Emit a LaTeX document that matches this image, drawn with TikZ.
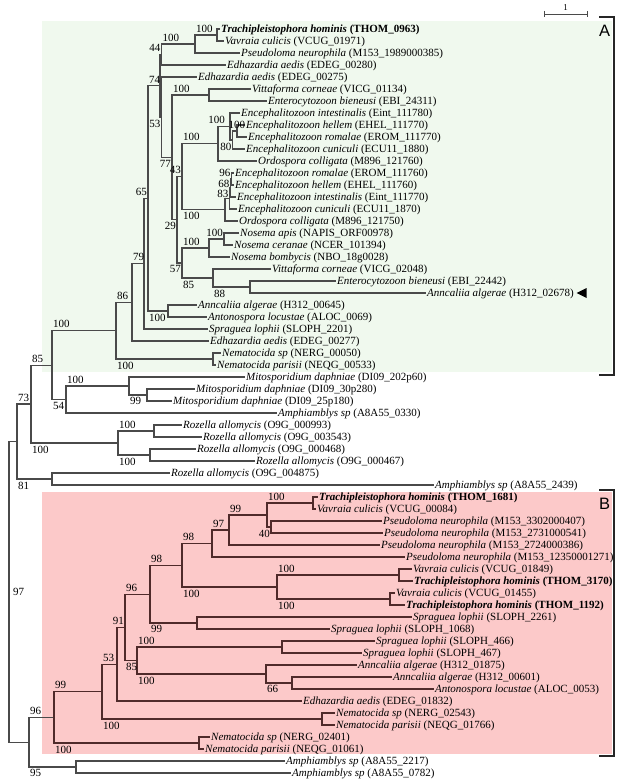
\documentclass[tikz,border=0pt]{standalone}
\usepackage{fontspec}
\setmainfont{Liberation Serif}
\newfontfamily\cladefont{Liberation Sans}
\usetikzlibrary{calc}

\definecolor{cladeA}{HTML}{F0F9EE}
\definecolor{cladeB}{HTML}{FCC9C9}
\definecolor{treeA}{HTML}{4A4A4A}
\definecolor{treeB}{HTML}{4F2A2A}

\newcommand{\taxon}[2]{\textit{#1} (#2)}
\newcommand{\taxonb}[2]{\textbf{\textit{#1} (#2)}}

\tikzset{
  leaf/.style={anchor=west, inner sep=1pt, text height=7.5pt, text depth=1pt,
    font=\fontsize{11}{12}\selectfont},
  bs/.style={inner xsep=1pt, inner ysep=2.5pt, font=\fontsize{11}{12}\selectfont},
  edge/.style={draw=treeA, line width=1.1pt},
  edgeB/.style={draw=treeB, line width=1.1pt},
  bracket/.style={draw=black!85, line width=1.8pt},
}

\begin{document}
\begin{tikzpicture}[x=1pt, y=-1pt]
    \useasboundingbox (0,0) rectangle (617,783);

    % Clade boxes
    \fill[cladeA] (42,21) rectangle (612,372);
    \fill[cladeB] (42,492) rectangle (612,754);
    \draw[bracket] (599,17) -- (614,17) -- (614,375) -- (599,375);
    \draw[bracket] (599,490) -- (614,490) -- (614,756) -- (599,756);
    \node[font=\cladefont\fontsize{16.5}{17}\selectfont] (cA) at (604.5,31) {A};
    \node[font=\cladefont\fontsize{16.5}{17}\selectfont] (cB) at (604.5,504) {B};

    % Scale bar
    \coordinate (sb1) at (544,14);
    \coordinate (sb2) at (587,14);
    \draw[treeA, line width=0.9pt] (sb1) -- (sb2);
    \draw[treeA, line width=0.9pt] ([yshift=3pt]sb1) -- ([yshift=-3pt]sb1);
    \draw[treeA, line width=0.9pt] ([yshift=3pt]sb2) -- ([yshift=-3pt]sb2);
    \node[font=\fontsize{9}{10}\selectfont, above=0pt] (sbl) at ($(sb1)!0.5!(sb2)$) {1};

    % Leaves
    \node[leaf] (l1) at (220,29) {\taxonb{Trachipleistophora hominis}{THOM\_0963}};
    \node[leaf] (l2) at (224,41) {\taxon{Vavraia culicis}{VCUG\_01971}};
    \node[leaf] (l3) at (240,53) {\taxon{Pseudoloma neurophila}{M153\_1989000385}};
    \node[leaf] (l4) at (226,65) {\taxon{Edhazardia aedis}{EDEG\_00280}};
    \node[leaf] (l5) at (197,77) {\taxon{Edhazardia aedis}{EDEG\_00275}};
    \node[leaf] (l6) at (251,89) {\taxon{Vittaforma corneae}{VICG\_01134}};
    \node[leaf] (l7) at (267,101) {\taxon{Enterocytozoon bieneusi}{EBI\_24311}};
    \node[leaf] (l8) at (240,113) {\taxon{Encephalitozoon intestinalis}{Eint\_111780}};
    \node[leaf] (l9) at (245,125) {\taxon{Encephalitozoon hellem}{EHEL\_111770}};
    \node[leaf] (l10) at (247,137) {\taxon{Encephalitozoon romalae}{EROM\_111770}};
    \node[leaf] (l11) at (245,149) {\taxon{Encephalitozoon cuniculi}{ECU11\_1880}};
    \node[leaf] (l12) at (257,161) {\taxon{Ordospora colligata}{M896\_121760}};
    \node[leaf] (l13) at (234,173) {\taxon{Encephalitozoon romalae}{EROM\_111760}};
    \node[leaf] (l14) at (234,185) {\taxon{Encephalitozoon hellem}{EHEL\_111760}};
    \node[leaf] (l15) at (236,197) {\taxon{Encephalitozoon intestinalis}{Eint\_111770}};
    \node[leaf] (l16) at (237,209) {\taxon{Encephalitozoon cuniculi}{ECU11\_1870}};
    \node[leaf] (l17) at (238,221) {\taxon{Ordospora colligata}{M896\_121750}};
    \node[leaf] (l18) at (239,233) {\taxon{Nosema apis}{NAPIS\_ORF00978}};
    \node[leaf] (l19) at (233,245) {\taxon{Nosema ceranae}{NCER\_101394}};
    \node[leaf] (l20) at (230,257) {\taxon{Nosema bombycis}{NBO\_18g0028}};
    \node[leaf] (l21) at (271,269) {\taxon{Vittaforma corneae}{VICG\_02048}};
    \node[leaf] (l22) at (336,281) {\taxon{Enterocytozoon bieneusi}{EBI\_22442}};
    \node[leaf] (l23) at (426,293) {\taxon{Anncaliia algerae}{H312\_02678}};
    \node[leaf] (l24) at (197,305) {\taxon{Anncaliia algerae}{H312\_00645}};
    \node[leaf] (l25) at (207,317) {\taxon{Antonospora locustae}{ALOC\_0069}};
    \node[leaf] (l26) at (208,329) {\taxon{Spraguea lophii}{SLOPH\_2201}};
    \node[leaf] (l27) at (209,341) {\taxon{Edhazardia aedis}{EDEG\_00277}};
    \node[leaf] (l28) at (221,353) {\taxon{Nematocida sp}{NERG\_00050}};
    \node[leaf] (l29) at (216,365) {\taxon{Nematocida parisii}{NEQG\_00533}};
    \node[leaf] (l30) at (245,377) {\taxon{Mitosporidium daphniae}{DI09\_202p60}};
    \node[leaf] (l31) at (195,389) {\taxon{Mitosporidium daphniae}{DI09\_30p280}};
    \node[leaf] (l32) at (172,401) {\taxon{Mitosporidium daphniae}{DI09\_25p180}};
    \node[leaf] (l33) at (277,413) {\taxon{Amphiamblys sp}{A8A55\_0330}};
    \node[leaf] (l34) at (182,425) {\taxon{Rozella allomycis}{O9G\_000993}};
    \node[leaf] (l35) at (202,437) {\taxon{Rozella allomycis}{O9G\_003543}};
    \node[leaf] (l36) at (196,449) {\taxon{Rozella allomycis}{O9G\_000468}};
    \node[leaf] (l37) at (255,461) {\taxon{Rozella allomycis}{O9G\_000467}};
    \node[leaf] (l38) at (170,473) {\taxon{Rozella allomycis}{O9G\_004875}};
    \node[leaf] (l39) at (434,485) {\taxon{Amphiamblys sp}{A8A55\_2439}};
    \node[leaf] (l40) at (318,497) {\taxonb{Trachipleistophora hominis}{THOM\_1681}};
    \node[leaf] (l41) at (316,509) {\taxon{Vavraia culicis}{VCUG\_00084}};
    \node[leaf] (l42) at (382,521) {\taxon{Pseudoloma neurophila}{M153\_3302000407}};
    \node[leaf] (l43) at (383,533) {\taxon{Pseudoloma neurophila}{M153\_2731000541}};
    \node[leaf] (l44) at (380,545) {\taxon{Pseudoloma neurophila}{M153\_2724000386}};
    \node[leaf] (l45) at (405,557) {\taxon{Pseudoloma neurophila}{M153\_12350001271}};
    \node[leaf] (l46) at (412,569) {\taxon{Vavraia culicis}{VCUG\_01849}};
    \node[leaf] (l47) at (413,581) {\taxonb{Trachipleistophora hominis}{THOM\_3170}};
    \node[leaf] (l48) at (395,593) {\taxon{Vavraia culicis}{VCUG\_01455}};
    \node[leaf] (l49) at (405,605) {\taxonb{Trachipleistophora hominis}{THOM\_1192}};
    \node[leaf] (l50) at (412,617) {\taxon{Spraguea lophii}{SLOPH\_2261}};
    \node[leaf] (l51) at (330,629) {\taxon{Spraguea lophii}{SLOPH\_1068}};
    \node[leaf] (l52) at (375,641) {\taxon{Spraguea lophii}{SLOPH\_466}};
    \node[leaf] (l53) at (362,653) {\taxon{Spraguea lophii}{SLOPH\_467}};
    \node[leaf] (l54) at (357,665) {\taxon{Anncaliia algerae}{H312\_01875}};
    \node[leaf] (l55) at (392,677) {\taxon{Anncaliia algerae}{H312\_00601}};
    \node[leaf] (l56) at (434,689) {\taxon{Antonospora locustae}{ALOC\_0053}};
    \node[leaf] (l57) at (302,701) {\taxon{Edhazardia aedis}{EDEG\_01832}};
    \node[leaf] (l58) at (335,713) {\taxon{Nematocida sp}{NERG\_02543}};
    \node[leaf] (l59) at (335,725) {\taxon{Nematocida parisii}{NEQG\_01766}};
    \node[leaf] (l60) at (210,737) {\taxon{Nematocida sp}{NERG\_02401}};
    \node[leaf] (l61) at (204,749) {\taxon{Nematocida parisii}{NEQG\_01061}};
    \node[leaf] (l62) at (285,761) {\taxon{Amphiamblys sp}{A8A55\_2217}};
    \node[leaf] (l63) at (291,773) {\taxon{Amphiamblys sp}{A8A55\_0782}};
    \fill ([xshift=1.5pt]l23.east) -- ++(10,-5) -- ++(0,10) -- cycle;

    % Inner nodes
    \coordinate (R) at (9,591.8);
    \coordinate (U) at (17,441.5);
    \coordinate (U1) at (31,404);
    \coordinate (U2) at (52,479);
    \coordinate (A0) at (52,365.1);
    \coordinate (Roz) at (118,443);
    \coordinate (R1) at (154,431);
    \coordinate (R2) at (150,455);
    \coordinate (Aroot) at (116,330.7);
    \coordinate (M) at (66,399.5);
    \coordinate (Mit) at (129,386);
    \coordinate (m3132) at (147,395);
    \coordinate (A1) at (132,302.4);
    \coordinate (N1) at (213,359);
    \coordinate (A2) at (144,263.7);
    \coordinate (A3) at (148,198.4);
    \coordinate (Anc) at (168,311);
    \coordinate (A4) at (160,85.9);
    \coordinate (J44) at (161.5,54.5);
    \coordinate (T2) at (195,44);
    \coordinate (T1) at (217,35);
    \coordinate (J53) at (161.5,117.2);
    \coordinate (J77) at (172,157.4);
    \coordinate (n67) at (209,95);
    \coordinate (P1) at (177,219.9);
    \coordinate (EE) at (182,176.8);
    \coordinate (E4) at (218,143.8);
    \coordinate (E4a) at (230,126.5);
    \coordinate (E4b) at (232.5,140);
    \coordinate (E4c) at (237,131);
    \coordinate (E5) at (225,209.8);
    \coordinate (E5a) at (229.5,198.5);
    \coordinate (E5d) at (230.5,188);
    \coordinate (E5c) at (231.5,179);
    \coordinate (NV) at (182,263);
    \coordinate (N3) at (209,248);
    \coordinate (n1819) at (224,239);
    \coordinate (n21) at (213,278);
    \coordinate (n2223) at (250,287);
    \coordinate (L) at (29,742.1);
    \coordinate (B0) at (54,717.3);
    \coordinate (Am2) at (76,767);
    \coordinate (B1) at (102,691.6);
    \coordinate (N2) at (199,743);
    \coordinate (B2) at (117,664.2);
    \coordinate (n5859) at (322,719);
    \coordinate (B3) at (125,627.3);
    \coordinate (B5) at (150,594.1);
    \coordinate (B4) at (137,660.5);
    \coordinate (B6) at (182,565.3);
    \coordinate (S1) at (197,623);
    \coordinate (Q3) at (212,543.5);
    \coordinate (V) at (277,587);
    \coordinate (V1) at (399,575);
    \coordinate (V2) at (390,599);
    \coordinate (Q2) at (229,530);
    \coordinate (Q) at (267,515);
    \coordinate (T4041) at (313,503);
    \coordinate (P4243) at (271,527);
    \coordinate (S2) at (282,647);
    \coordinate (AA) at (266,674);
    \coordinate (n5556) at (292,683);

    % Branches
    \foreach \p/\c in {R/U, R/L, U/U1, U/U2, U1/A0, U1/Roz, A0/Aroot, A0/M,
        Aroot/A1, Aroot/N1, A1/A2, A1/l27, A2/A3, A2/l26, A3/A4, A3/Anc,
        A4/J44, A4/J53, J44/T2, J44/l4, T2/T1, T2/l3, T1/l1, T1/l2,
        J53/l5, J53/J77, J77/n67, J77/P1, n67/l6, n67/l7, P1/EE, P1/NV,
        EE/E4, EE/E5, E4/E4a, E4/l12, E4a/l8, E4a/E4b, E4b/E4c, E4b/l11,
        E4c/l9, E4c/l10, E5/E5a, E5/l17, E5a/E5d, E5a/l16, E5d/E5c, E5d/l15,
        E5c/l13, E5c/l14, NV/N3, NV/n21, N3/n1819, N3/l20, n1819/l18, n1819/l19,
        n21/l21, n21/n2223, n2223/l22, n2223/l23, Anc/l24, Anc/l25, N1/l28, N1/l29,
        M/Mit, M/l33, Mit/l30, Mit/m3132, m3132/l31, m3132/l32, Roz/R1, Roz/R2,
        R1/l34, R1/l35, R2/l36, R2/l37, U2/l38, U2/l39, L/B0, L/Am2, Am2/l62, Am2/l63}
        \draw[edge] (\p) |- (\c);
    \foreach \p/\c in {B0/B1, B0/N2, B1/B2, B1/n5859, B2/B3, B2/l57, B3/B5, B3/B4,
        B5/B6, B5/S1, B6/Q3, B6/V, Q3/Q2, Q3/l45, Q2/Q, Q2/l44, Q/T4041, Q/P4243,
        T4041/l40, T4041/l41, P4243/l42, P4243/l43, V/V1, V/V2, V1/l46, V1/l47,
        V2/l48, V2/l49, S1/l50, S1/l51, B4/S2, B4/AA, S2/l52, S2/l53, AA/l54,
        AA/n5556, n5556/l55, n5556/l56, n5859/l58, n5859/l59, N2/l60, N2/l61}
        \draw[edgeB] (\p) |- (\c);

    % Support values
    \node[bs,right,xshift=3pt] (bR) at (R) {97};
    \node[bs,above right] (bT1) at (T2 |- T1) {100};
    \node[bs,above right] (bT2) at (J44 |- T2) {100};
    \node[bs,above left] (bJ44) at (J44) {44};
    \node[bs,above right] (bA4) at (A3 |- A4) {74};
    \node[bs,below left] (bJ53) at (J53) {53};
    \node[bs,above right] (bn67) at (J77 |- n67) {100};
    \node[bs,below left] (bJ77) at (J77) {77};
    \node[bs,below left] (bP1) at (P1) {29};
    \node[bs,above left] (bEE) at (EE) {43};
    \node[bs,below left] (bNV) at (NV) {57};
    \node[bs,above right] (bE4) at (EE |- E4) {100};
    \node[bs,below right] (bE5) at (EE |- E5) {100};
    \node[bs,above left,xshift=-4pt] (bE4a) at (E4a) {100};
    \node[bs,below left] (bE4b) at (E4b) {80};
    \node[bs,above right,xshift=-5pt,inner ysep=1pt,yshift=1.5pt] (bE4c) at (E4b |- E4c) {100};
    \node[bs,above left,inner ysep=0.5pt,yshift=1.5pt] (bE5c) at (E5c) {96};
    \node[bs,above left,inner ysep=0.5pt] (bE5d) at (E5d) {68};
    \node[bs,above left,inner ysep=0.5pt] (bE5a) at (E5a) {83};
    \node[bs,above left] (bn1819) at (n1819) {100};
    \node[bs,above right] (bN3) at (NV |- N3) {100};
    \node[bs,below right] (bn21) at (NV |- n21) {85};
    \node[bs,below right] (bn2223) at (n21 |- n2223) {88};
    \node[bs,below right] (bAnc) at (A3 |- Anc) {100};
    \node[bs,above left] (bA3) at (A3) {65};
    \node[bs,above right] (bA2) at (A1 |- A2) {79};
    \node[bs,above right] (bA1) at (Aroot |- A1) {86};
    \node[bs,below right] (bN1) at (Aroot |- N1) {100};
    \node[bs,above right] (bAroot) at (A0 |- Aroot) {100};
    \node[bs,below right] (bM) at (A0 |- M) {54};
    \node[bs,above right] (bMit) at (M |- Mit) {100};
    \node[bs,below right] (bm3132) at (Mit |- m3132) {99};
    \node[bs,above right] (bA0) at (U1 |- A0) {85};
    \node[bs,below right] (bRoz) at (U1 |- Roz) {100};
    \node[bs,above right] (bR1) at (Roz |- R1) {100};
    \node[bs,below right] (bR2) at (Roz |- R2) {100};
    \node[bs,above right] (bU1) at (U |- U1) {73};
    \node[bs,below right] (bU2) at (U |- U2) {81};
    \node[bs,above right] (bT4041) at (Q |- T4041) {100};
    \node[bs,below left] (bP4243) at (P4243) {40};
    \node[bs,above right] (bQ) at (Q2 |- Q) {99};
    \node[bs,above right] (bQ2) at (Q3 |- Q2) {97};
    \node[bs,above right] (bQ3) at (B6 |- Q3) {98};
    \node[bs,above right] (bV1) at (V |- V1) {100};
    \node[bs,below right] (bV2) at (V |- V2) {100};
    \node[bs,below right] (bV) at (B6 |- V) {100};
    \node[bs,above right] (bB6) at (B5 |- B6) {98};
    \node[bs,below right] (bS1) at (B5 |- S1) {99};
    \node[bs,above right] (bB5) at (B3 |- B5) {96};
    \node[bs,below right] (bB4) at (B3 |- B4) {85};
    \node[bs,above right] (bS2) at (B4 |- S2) {100};
    \node[bs,below right] (bAA) at (B4 |- AA) {100};
    \node[bs,below right] (bn5556) at (AA |- n5556) {66};
    \node[bs,above left] (bB3) at (B3) {91};
    \node[bs,above right] (bB2) at (B1 |- B2) {53};
    \node[bs,below right] (bn5859) at (B1 |- n5859) {100};
    \node[bs,above right] (bB1) at (B0 |- B1) {99};
    \node[bs,below right] (bN2) at (B0 |- N2) {100};
    \node[bs,above right] (bB0) at (L |- B0) {96};
    \node[bs,below right] (bAm2) at (L |- Am2) {95};
\end{tikzpicture}
\end{document}
